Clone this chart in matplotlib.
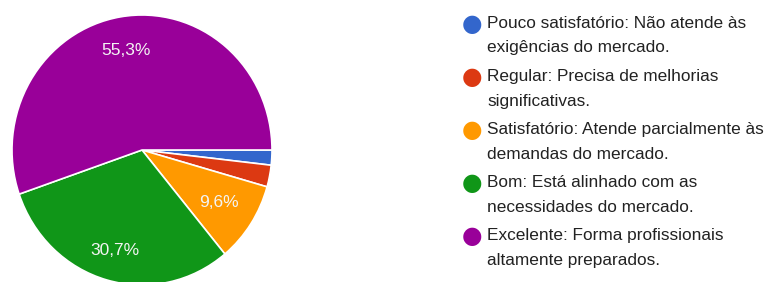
import numpy as np
import matplotlib.pyplot as plt

plt.rcParams['font.family'] = ['Liberation Sans', 'DejaVu Sans']

labels = [
    "Pouco satisfatório: Não atende às\nexigências do mercado.",
    "Regular: Precisa de melhorias\nsignificativas.",
    "Satisfatório: Atende parcialmente às\ndemandas do mercado.",
    "Bom: Está alinhado com as\nnecessidades do mercado.",
    "Excelente: Forma profissionais\naltamente preparados.",
]
values = [1.8, 2.6, 9.6, 30.7, 55.3]
colors = ['#3366cc', '#dc3912', '#ff9900', '#109618', '#990099']
label_dist = [0.77, 0.77, 0.71, 0.77, 0.745]

W, H = 766, 282
fig = plt.figure(figsize=(W / 100, H / 100), dpi=100)

cx, cy, rx, ry = 142, 150, 130, 135
ax = fig.add_axes([(cx - rx) / W, (H - cy - ry) / H, 2 * rx / W, 2 * ry / H])
wedges, texts, autotexts = ax.pie(
    values, colors=colors, startangle=0, counterclock=False,
    autopct=lambda p: ('%.1f%%' % p).replace('.', ',') if p > 5 else '',
    pctdistance=0.77, radius=1,
    wedgeprops=dict(edgecolor='white', linewidth=1.2),
    textprops=dict(color='#f4f4f4', fontsize=12.5))
for w, t, d in zip(wedges, autotexts, label_dist):
    ang = np.deg2rad((w.theta1 + w.theta2) / 2)
    t.set_position((d * np.cos(ang), d * np.sin(ang)))
ax.set_xlim(-1, 1)
ax.set_ylim(-1, 1)
ax.set_aspect('auto')
ax.axis('off')

# legend
y0 = 23.5
step = 53.2
for i, (lab, col) in enumerate(zip(labels, colors)):
    y = y0 + i * step
    fig.text(472 / W, 1 - y / H, '\u25CF', color=col, fontsize=17,
             ha='center', va='center', family='DejaVu Sans')
    fig.text(487 / W, 1 - (y - 8) / H, lab, color='#222222', fontsize=12.4,
             ha='left', va='top', linespacing=1.83)

fig.savefig('out.png', dpi=100)
